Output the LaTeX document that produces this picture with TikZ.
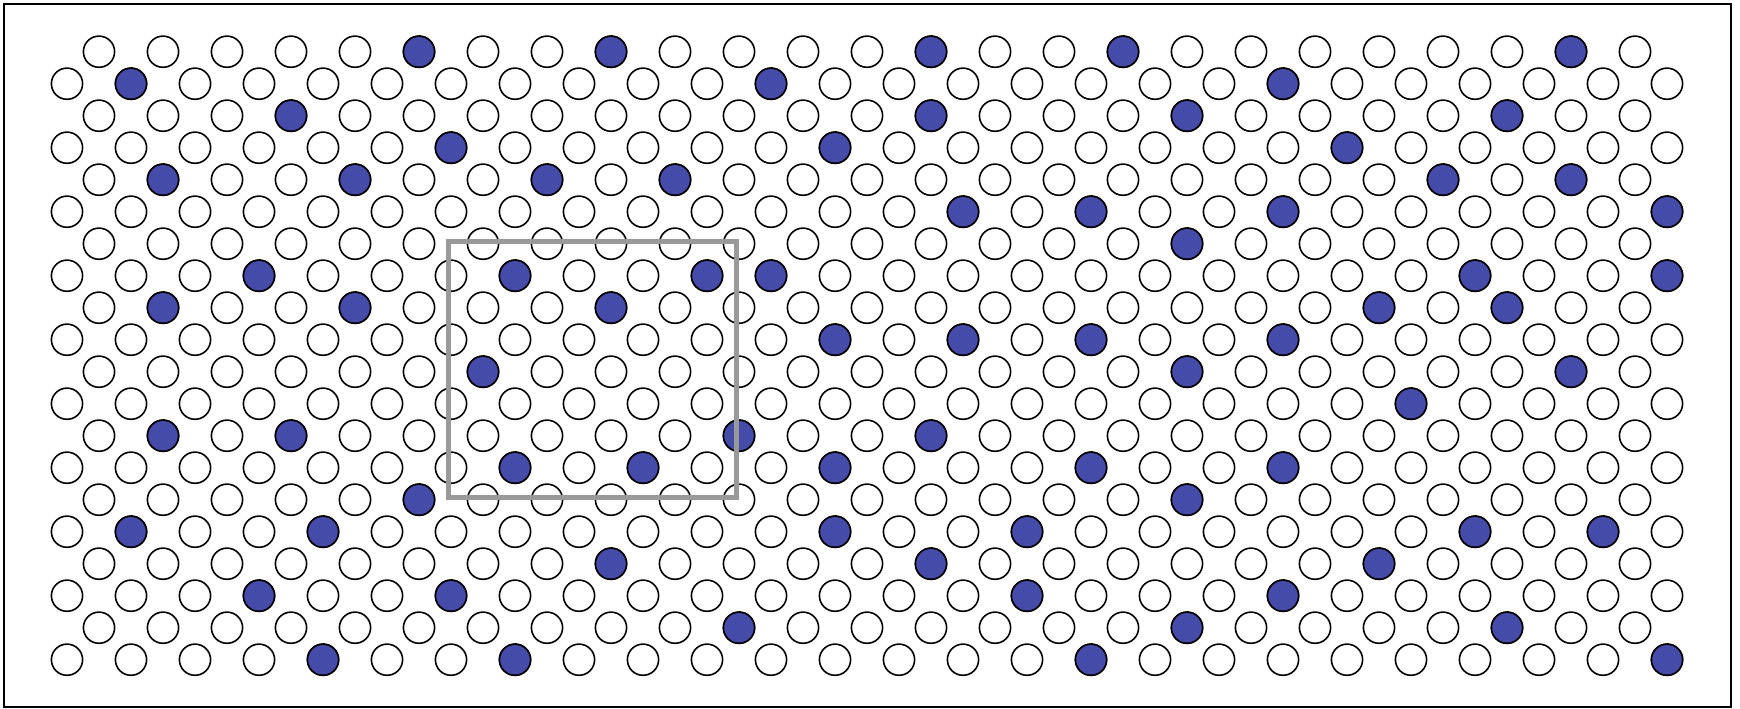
\documentclass[tikz,border=0pt]{standalone}
\usepackage{xcolor}
\usepackage{tikz}
\usetikzlibrary{positioning}

\definecolor{siteblue}{RGB}{68,75,168}

\begin{document}
\begin{tikzpicture}[
        x=0.5pt, y=-0.5pt, % one unit = one pixel of the picture
        site/.style={draw, circle, line width=0.8pt, minimum size=15.6pt, inner sep=0pt, fill=white},
        occupied/.style={site, fill=siteblue},
        window/.style={draw=gray!80, line width=2.5pt}
    ]
    \useasboundingbox (0,0) rectangle (1740,708);

    % --- Frame ---
    \draw[line width=1pt] (3.5,4) rectangle (1731,707);

    % --- Lattice sites (even rows) ---
    \foreach \r in {0,2,...,18}
        \foreach \c in {1,3,...,49}
            \node[site] (s-\r-\c) at ({67+32*\c},{51.7+32*\r}) {};

    % --- Lattice sites (odd rows) ---
    \foreach \r in {1,3,...,19}
        \foreach \c in {0,2,...,50}
            \node[site] (s-\r-\c) at ({67+32*\c},{51.7+32*\r}) {};

    % --- Occupied sites ---
    \foreach \r/\cols in {0/{11,17,27,33,47}, 1/{2,22,38}, 2/{7,27,35,45},
            3/{12,24,40}, 4/{3,9,15,19,43,47}, 5/{28,32,38,50}, 6/{35},
            7/{6,14,20,22,44,50}, 8/{3,9,17,41,45}, 9/{24,28,32,38},
            10/{13,35,47}, 11/{42}, 12/{3,7,21,27}, 13/{14,18,24,32,38},
            14/{11,35}, 15/{2,8,24,30,44,48}, 16/{17,27,41}, 17/{6,12,30,38},
            18/{21,35,45}, 19/{8,14,32,50}}
        \foreach \c in \cols
            \node[occupied] at (s-\r-\c) {};

    % --- Highlighted window ---
    \draw[window] (448.3,241) rectangle (736,497);

\end{tikzpicture}
\end{document}
